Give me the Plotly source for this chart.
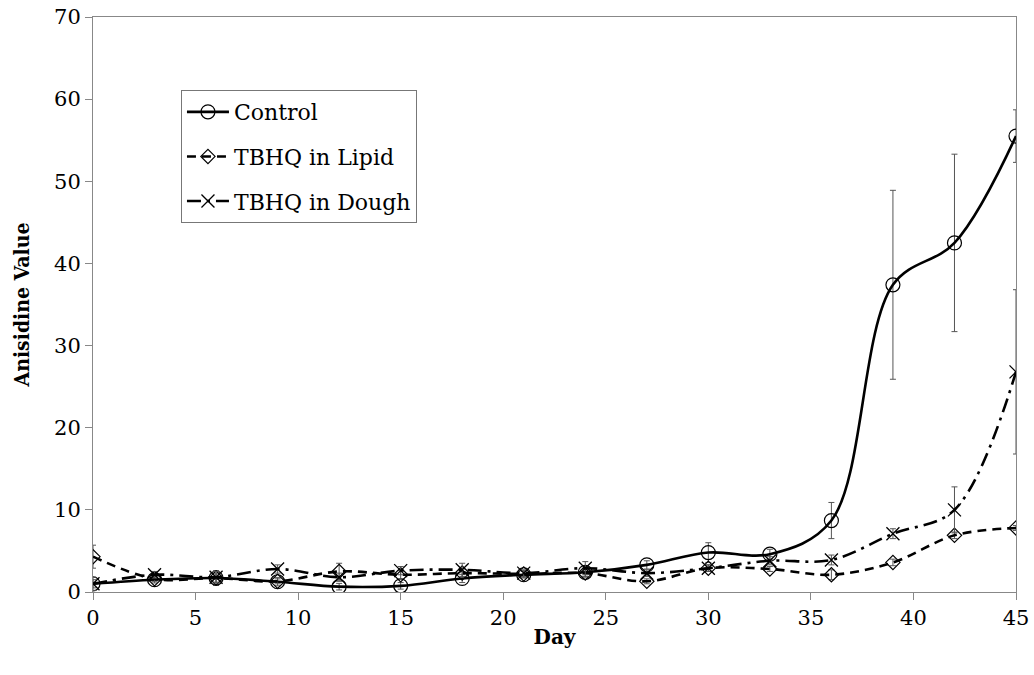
import plotly.graph_objects as go

days = [0, 3, 6, 9, 12, 15, 18, 21, 24, 27, 30, 33, 36, 39, 42, 45]
control = [1.0, 1.5, 1.7, 1.25, 0.65, 0.75, 1.65, 2.1, 2.4, 3.3, 4.8, 4.6, 8.7, 37.4, 42.5, 55.5]
control_err = [0.5, 0.4, 0.9, 0.5, 0.4, 0.4, 0.5, 0.4, 0.5, 0.5, 1.2, 0.6, 2.2, 11.5, 10.8, 3.2]
lipid = [4.3, 1.6, 1.7, 1.3, 2.5, 2.1, 2.3, 2.2, 2.3, 1.3, 2.9, 2.8, 2.1, 3.6, 6.9, 7.8]
lipid_err = [1.4, 0.3, 0.5, 0.3, 1.0, 0.5, 0.5, 0.4, 0.5, 0.3, 0.4, 0.3, 0.6, 0.4, 0.4, 0.3]
dough = [1.0, 2.1, 1.8, 2.8, 1.8, 2.6, 2.7, 2.3, 2.9, 2.3, 2.9, 3.8, 3.9, 7.1, 10.0, 26.8]
dough_err = [0.8, 0.4, 0.7, 0.5, 0.5, 0.5, 0.8, 0.4, 0.8, 0.4, 0.4, 0.5, 0.6, 0.6, 2.8, 10.0]

x_ticks = [0, 5, 10, 15, 20, 25, 30, 35, 40, 45]
y_ticks = [0, 10, 20, 30, 40, 50, 60, 70]

FONT = "DejaVu Serif"
err_style = dict(type="data", visible=True, color="#555", thickness=1, width=3)

fig = go.Figure()
fig.add_trace(go.Scatter(
    x=days, y=control, name="Control", mode="lines+markers", legendgroup="a",
    line=dict(color="black", width=2.6, shape="spline", smoothing=1.0),
    marker=dict(symbol="circle-open", size=14, color="black", line=dict(width=1.2)),
    error_y=dict(array=control_err, **err_style),
))
fig.add_trace(go.Scatter(
    x=days, y=lipid, name="TBHQ in Lipid", mode="lines+markers", legendgroup="b",
    line=dict(color="black", width=2.6, shape="spline", smoothing=1.0, dash="9px,6px"),
    marker=dict(symbol="diamond-open", size=11, color="black", line=dict(width=1.2)),
    error_y=dict(array=lipid_err, **err_style),
))
fig.add_trace(go.Scatter(
    x=days, y=dough, name="TBHQ in Dough", mode="lines+markers", legendgroup="c",
    line=dict(color="black", width=2.6, shape="spline", smoothing=1.0, dash="14px,6px,3px,6px"),
    marker=dict(symbol="x-thin-open", size=13, color="black", line=dict(width=1.3, color="black")),
    error_y=dict(array=dough_err, **err_style),
))

fig.update_layout(
    width=1034, height=675,
    margin=dict(l=93, r=18, t=17, b=83),
    paper_bgcolor="white", plot_bgcolor="white",
    font=dict(family=FONT, size=20, color="black"),
    showlegend=True,
    legend=dict(
        x=0.0953, y=0.873, xanchor="left", yanchor="top",
        bordercolor="#777", borderwidth=1, bgcolor="white",
        font=dict(family=FONT, size=22), tracegroupgap=13,
        itemwidth=42,
    ),
    xaxis=dict(
        range=[0, 45], tickvals=x_ticks, ticktext=[str(v) for v in x_ticks],
        showgrid=False, zeroline=False, showline=True, linecolor="#888", linewidth=1,
        mirror=True, ticks="outside", ticklen=7, tickcolor="#888", automargin=False,
        title=dict(text="<b>Day</b>", font=dict(family=FONT, size=20), standoff=0),
        tickfont=dict(family=FONT, size=21),
    ),
    yaxis=dict(
        range=[0, 70], tickvals=y_ticks, ticktext=[str(v) for v in y_ticks],
        showgrid=False, zeroline=False, showline=True, linecolor="#888", linewidth=1,
        mirror=True, ticks="outside", ticklen=7, tickcolor="#888", automargin=False,
        title=dict(text="<b>Anisidine Value</b>", font=dict(family="DejaVu Serif Condensed", size=21), standoff=18),
        tickfont=dict(family=FONT, size=21),
    ),
)

fig.write_html("out.html")
